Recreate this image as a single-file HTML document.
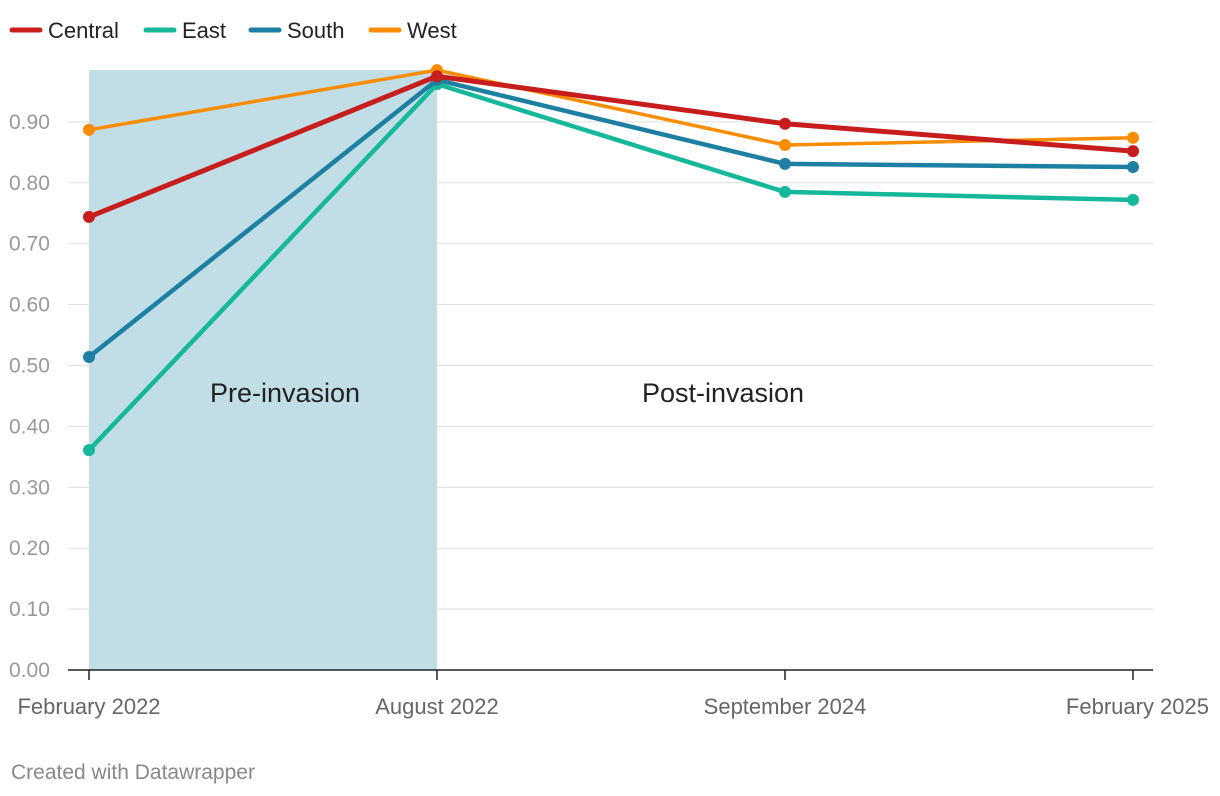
<!DOCTYPE html>
<html><head><meta charset="utf-8"><style>
body{margin:0;background:#fff;font-family:"Liberation Sans",sans-serif;}
svg{display:block}
</style></head><body>
<svg id="chart" width="1220" height="796">
<g id="legend"></g>
<g id="grid"></g>
<rect id="shade" fill="#c1dde5"></rect>
<g id="series"></g>
<text x="285" y="402" text-anchor="middle" font-size="27" fill="#222">Pre-invasion</text>
<text x="723" y="402" text-anchor="middle" font-size="27" fill="#222">Post-invasion</text>
<g id="xaxis"></g>
<text x="11" y="779" font-size="21" fill="#888">Created with Datawrapper</text>
</svg>
<script>
const categories=["February 2022","August 2022","September 2024","February 2025"];
const seriesNames=["Central","East","South","West"];
const central=[0.744,0.975,0.897,0.852];
const east=[0.361,0.962,0.785,0.772];
const south=[0.514,0.969,0.831,0.826];
const west=[0.887,0.985,0.862,0.874];
const yTicks=[0,0.1,0.2,0.3,0.4,0.5,0.6,0.7,0.8,0.9];
const yTickLabels=["0.00","0.10","0.20","0.30","0.40","0.50","0.60","0.70","0.80","0.90"];
const shadeRange=[0,1];

const NS="http://www.w3.org/2000/svg";
const x=i=>89+i*348;
const y=v=>670-v*609;
function mk(tag,attrs,parent){const e=document.createElementNS(NS,tag);for(const k in attrs)e.setAttribute(k,attrs[k]);parent.appendChild(e);return e;}
const grid=document.getElementById('grid');
yTicks.forEach((t,i)=>{
  if(t>0){const l=mk('line',{x1:68,x2:1153,y1:y(t),y2:y(t),stroke:'#ddd','stroke-width':1},grid);
  
  }
  const tx=mk('text',{x:9,y:y(t)+7,'font-size':21,fill:'#999'},grid);tx.textContent=yTickLabels[i];
  
  
});
const sh=document.getElementById('shade');
sh.setAttribute('x',x(shadeRange[0]));sh.setAttribute('width',x(shadeRange[1])-x(shadeRange[0]));
sh.setAttribute('y',70);sh.setAttribute('height',600);
const xa=document.getElementById('xaxis');
const al=mk('line',{x1:68,x2:1153,y1:670,y2:670,stroke:'#222','stroke-width':1.5},xa);


categories.forEach((c,i)=>{
  const t=mk('line',{x1:x(i),x2:x(i),y1:670,y2:680,stroke:'#222','stroke-width':1.5},xa);
  
  
  let xx=x(i),anc='middle';if(i==categories.length-1){xx=1209;anc='end';}
  const tx=mk('text',{x:xx,y:714,'font-size':22,fill:'#666','text-anchor':anc},xa);tx.textContent=c;
  
  
});
const data=[central,east,south,west];
const colors=["#c71e1d","#15b89b","#1d7fa2","#fa8c00"];
const widths=[5,4.5,4.5,3.5];
const order=[1,2,3,0];
const sg=document.getElementById('series');
order.forEach(s=>{
  const g=mk('g',{},sg);
  
  
  const pts=data[s].map((v,i)=>x(i)+','+y(v)).join(' ');
  const pl=mk('polyline',{points:pts,fill:'none',stroke:colors[s],'stroke-width':widths[s],'stroke-linejoin':'round'},g);
  
  
  data[s].forEach((v,i)=>{
    const c=mk('circle',{cx:x(i),cy:y(v),r:6,fill:colors[s]},g);
    
    
  });
});
const lg=document.getElementById('legend');
const lx=[12,146,251,371];
seriesNames.forEach((n,i)=>{
  const g=mk('g',{},lg);
  
  
  mk('line',{x1:lx[i],x2:lx[i]+28,y1:30,y2:30,stroke:colors[i],'stroke-width':5,'stroke-linecap':'round'},g);
  const t=mk('text',{x:lx[i]+36,y:38,'font-size':22,fill:'#222'},g);t.textContent=n;
});
</script>
</body></html>
